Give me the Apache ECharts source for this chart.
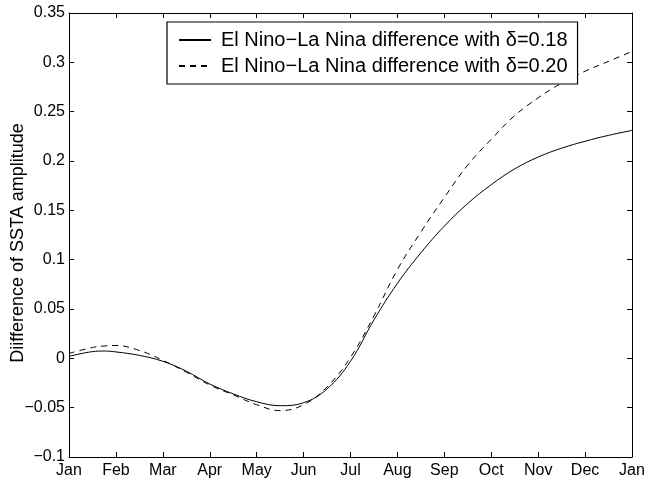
<!DOCTYPE html>
<html>
<head>
<meta charset="utf-8">
<script src="https://cdn.jsdelivr.net/npm/echarts@6/dist/echarts.min.js"></script>
<style>
html,body{margin:0;padding:0;background:#fff;}
#c{width:646px;height:485px;}
</style>
</head>
<body>
<div id="c"></div>
<script>
const monthLabels = ['Jan','Feb','Mar','Apr','May','Jun','Jul','Aug','Sep','Oct','Nov','Dec','Jan'];
const xMonths = [0,0.5,0.75,1,1.5,2,2.5,3,3.5,4,4.5,5,5.5,6,6.5,7,7.5,8,8.5,9,9.5,10,10.5,11,11.5,12];
const solid018 = [0.002,0.0068,0.0074,0.0065,0.003,-0.003,-0.013,-0.026,-0.036,-0.044,-0.048,-0.045,-0.031,-0.003,0.039,0.076,0.107,0.134,0.157,0.176,0.192,0.204,0.213,0.220,0.226,0.231];
const dashed020 = [0.005,0.011,0.0125,0.013,0.008,-0.002,-0.014,-0.027,-0.037,-0.047,-0.053,-0.047,-0.029,0.001,0.043,0.090,0.128,0.163,0.196,0.222,0.246,0.264,0.279,0.291,0.301,0.311];
const seriesNames = ['El Nino\u2212La Nina difference with \u03b4=0.18','El Nino\u2212La Nina difference with \u03b4=0.20'];
const yLabelText = 'Diifference of SSTA amplitude';

const font = '"Liberation Sans", Arial, Helvetica, sans-serif';
const chart = echarts.init(document.getElementById('c'), null, {renderer:'canvas'});
const pair = arr => xMonths.map((x,i)=>[x,arr[i]]);
const fmtY = v => { let s = String(Math.round(v*1000)/1000); return s.replace('-', '\u2212'); };
const axisCommon = {
  min:0,max:12,interval:1,
  axisLine:{show:true,onZero:false,lineStyle:{color:'#000',width:1}},
  axisTick:{show:true,inside:true,length:5,lineStyle:{color:'#000'}},
  splitLine:{show:false}
};
const yCommon = {
  min:-0.1,max:0.35,interval:0.05,
  axisLine:{show:true,onZero:false,lineStyle:{color:'#000',width:1}},
  axisTick:{show:true,inside:true,length:5,lineStyle:{color:'#000'}},
  splitLine:{show:false}
};
chart.setOption({
  animation:false,
  backgroundColor:'#fff',
  textStyle:{fontFamily:font},
  grid:{left:69,right:14,top:13,bottom:28,containLabel:false,outerBoundsMode:'none'},
  legend:{
    orient:'vertical',
    left:167, top:22,
    padding:[8,10,8,11],
    itemGap:6,
    itemWidth:32,itemHeight:14,
    borderColor:'#000',borderWidth:1.2,
    backgroundColor:'#fff',
    itemStyle:{color:'rgba(0,0,0,0)',borderColor:'rgba(0,0,0,0)',borderWidth:0},
    textStyle:{fontFamily:font,fontSize:20,color:'#000',padding:[0,0,0,5]},
    data:seriesNames
  },
  xAxis:[
    Object.assign({type:'value',position:'bottom',
      axisLabel:{show:true,color:'#000',fontSize:16,fontFamily:font,margin:6,
        formatter:v=>monthLabels[Math.round(v)]}},axisCommon),
    Object.assign({type:'value',position:'top',axisLabel:{show:false}},axisCommon)
  ],
  yAxis:[
    Object.assign({type:'value',position:'left',
      name:yLabelText,nameLocation:'middle',nameGap:42,nameRotate:90,nameMoveOverlap:false,
      nameTextStyle:{color:'#000',fontSize:18,fontFamily:font,padding:[0,16,0,0]},
      axisLabel:{show:true,color:'#000',fontSize:16,fontFamily:font,margin:4,formatter:fmtY}},yCommon),
    Object.assign({type:'value',position:'right',axisLabel:{show:false}},yCommon)
  ],
  series:[
    {name:seriesNames[0],type:'line',smooth:0.4,symbol:'none',data:pair(solid018),
      lineStyle:{color:'#000',width:1,type:'solid'},itemStyle:{color:'#000'}},
    {name:seriesNames[1],type:'line',smooth:0.4,symbol:'none',data:pair(dashed020),
      lineStyle:{color:'#000',width:1,type:[6,5]},itemStyle:{color:'#000'}}
  ]
});
</script>
</body>
</html>
